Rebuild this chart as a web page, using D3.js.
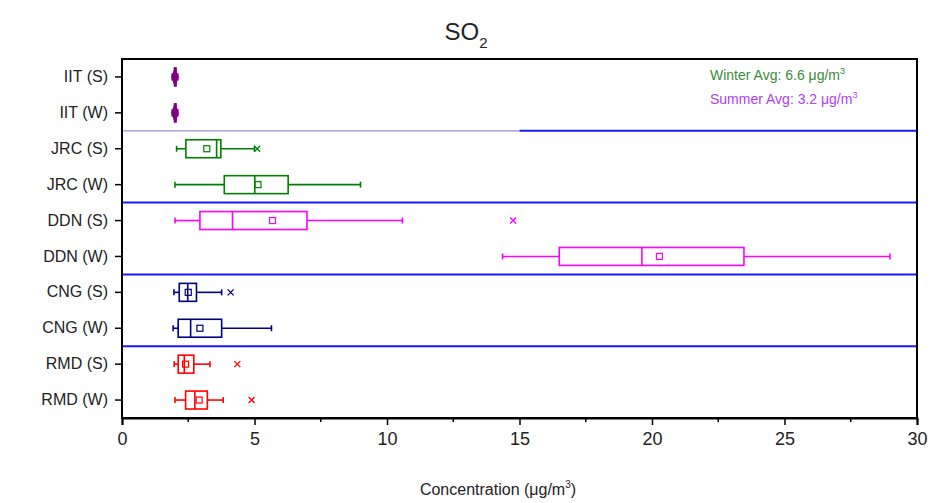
<!DOCTYPE html>
<html><head><meta charset="utf-8">
<script src="https://cdn.jsdelivr.net/npm/d3@7"></script>
<style>body{margin:0;background:#fff}svg{font-family:"Liberation Sans",Arial,sans-serif}</style>
</head><body><svg id="c" width="934" height="503"></svg>
<script>
const categories = ["IIT (S)","IIT (W)","JRC (S)","JRC (W)","DDN (S)","DDN (W)","CNG (S)","CNG (W)","RMD (S)","RMD (W)"];
const whiskerLow  = [1.95, 1.95, 2.06, 2.0, 2.0, 14.36, 1.96, 1.93, 1.97, 2.0];
const q1          = [1.98, 1.98, 2.41, 3.86, 2.94, 16.5, 2.16, 2.12, 2.12, 2.4];
const median      = [2.0, 2.0, 3.57, 5.01, 4.17, 19.62, 2.48, 2.59, 2.35, 2.75];
const q3          = [2.04, 2.04, 3.73, 6.27, 6.98, 23.47, 2.81, 3.76, 2.71, 3.22];
const whiskerHigh = [2.08, 2.08, 5.0, 9.0, 10.58, 28.98, 3.76, 5.64, 3.32, 3.82];
const means       = [2.0, 2.0, 3.2, 5.13, 5.68, 20.28, 2.5, 2.94, 2.4, 2.91];
const outliers    = [[], [], [5.1], [], [14.76], [], [4.1], [], [4.35], [4.89]];
const siteColors  = ["#800080","#800080","#008000","#008000","#ff00ff","#ff00ff","#000080","#000080","#ff0000","#ff0000"];
const xTicks = [0,5,10,15,20,25,30];
const winterAvg = 6.6, summerAvg = 3.2;

const svg = d3.select("#c");
const L=122, R=917, T=59, B=418;
const x = d3.scaleLinear().domain([0,30]).range([L,R]);
const y = d3.scaleBand().domain(categories).range([T,B]);
const bw = y.bandwidth(), bh = bw*0.5;

// separators
[2,4,6,8].forEach(i=>{
  const yy = y(categories[i]);
  if(i===2){
    svg.append("line").attr("x1",L).attr("x2",x(15)).attr("y1",yy).attr("y2",yy).attr("stroke","#9a8fe0").attr("stroke-width",1.2);
    svg.append("line").attr("x1",x(15)).attr("x2",R).attr("y1",yy).attr("y2",yy).attr("stroke","#1a1aff").attr("stroke-width",2);
  } else {
    svg.append("line").attr("x1",L).attr("x2",R).attr("y1",yy).attr("y2",yy).attr("stroke","#1a1aff").attr("stroke-width",2);
  }
});

categories.forEach((c,i)=>{
  const cy = y(c)+bw/2, col = siteColors[i];
  const g = svg.append("g").attr("stroke",col).attr("fill","none").attr("stroke-width",1.6);
  g.append("line").attr("x1",x(whiskerLow[i])).attr("x2",x(q1[i])).attr("y1",cy).attr("y2",cy);
  g.append("line").attr("x1",x(q3[i])).attr("x2",x(whiskerHigh[i])).attr("y1",cy).attr("y2",cy);
  [whiskerLow[i],whiskerHigh[i]].forEach(v=>g.append("line").attr("x1",x(v)).attr("x2",x(v)).attr("y1",cy-3).attr("y2",cy+3));
  g.append("rect").attr("x",x(q1[i])).attr("y",cy-bh/2).attr("width",Math.max(1,x(q3[i])-x(q1[i]))).attr("height",bh);
  g.append("line").attr("x1",x(median[i])).attr("x2",x(median[i])).attr("y1",cy-bh/2).attr("y2",cy+bh/2);
  g.append("rect").attr("x",x(means[i])-3).attr("y",cy-3).attr("width",6).attr("height",6).attr("stroke-width",1.2);
  if(i<2){
    g.append("path").attr("d",`M${x(means[i])},${cy-8}L${x(means[i])+3},${cy}L${x(means[i])},${cy+8}L${x(means[i])-3},${cy}Z`).attr("fill",col);
  }
  outliers[i].forEach(v=>{
    g.append("path").attr("d",`M${x(v)-3},${cy-3}L${x(v)+3},${cy+3}M${x(v)-3},${cy+3}L${x(v)+3},${cy-3}`).attr("stroke-width",1.3);
  });
});

// frame
svg.append("rect").attr("x",L).attr("y",T).attr("width",R-L).attr("height",B-T).attr("fill","none").attr("stroke","#000").attr("stroke-width",2);

// x axis
const xa = svg.append("g").attr("transform",`translate(0,${B})`)
  .call(d3.axisBottom(x).tickValues(xTicks).tickSize(7).tickPadding(7).tickFormat(d3.format("d")));
xa.select(".domain").attr("stroke-width",2);
xa.selectAll("text").attr("font-size",18).attr("fill","#222");
xa.selectAll(".tick line").attr("stroke-width",1.5);
const minorTicks = xTicks.slice(0,-1).map(v=>v+2.5);
svg.append("g").selectAll("line").data(minorTicks).join("line")
  .attr("x1",d=>x(d)).attr("x2",d=>x(d)).attr("y1",B).attr("y2",B+4).attr("stroke","#000").attr("stroke-width",1.5);

// y axis
const ya = svg.append("g").attr("transform",`translate(${L},0)`)
  .call(d3.axisLeft(y).tickSize(7).tickPadding(7));
ya.select(".domain").remove();
ya.selectAll("text").attr("font-size",16).attr("fill","#222");
ya.selectAll(".tick line").attr("stroke-width",1.5);

// title
const t = svg.append("text").attr("x",466).attr("y",40).attr("text-anchor","middle").attr("font-size",24).attr("fill","#222");
t.append("tspan").text("SO");
t.append("tspan").attr("font-size",15).attr("dy",8).text("2");

// axis title
const at = svg.append("text").attr("x",498).attr("y",495).attr("text-anchor","middle").attr("font-size",16).attr("fill","#222");
at.append("tspan").text("Concentration (μg/m");
at.append("tspan").attr("font-size",10).attr("dy",-7).text("3");
at.append("tspan").attr("dy",7).text(")");

// annotations
const w = svg.append("text").attr("x",710).attr("y",80).attr("font-size",14).attr("fill","#3a8a3a");
w.append("tspan").text(`Winter Avg: ${winterAvg} μg/m`);
w.append("tspan").attr("font-size",9).attr("dy",-6).text("3");
const s = svg.append("text").attr("x",710).attr("y",104).attr("font-size",14).attr("fill","#b040ee");
s.append("tspan").text(`Summer Avg: ${summerAvg} μg/m`);
s.append("tspan").attr("font-size",9).attr("dy",-6).text("3");
</script></body></html>
